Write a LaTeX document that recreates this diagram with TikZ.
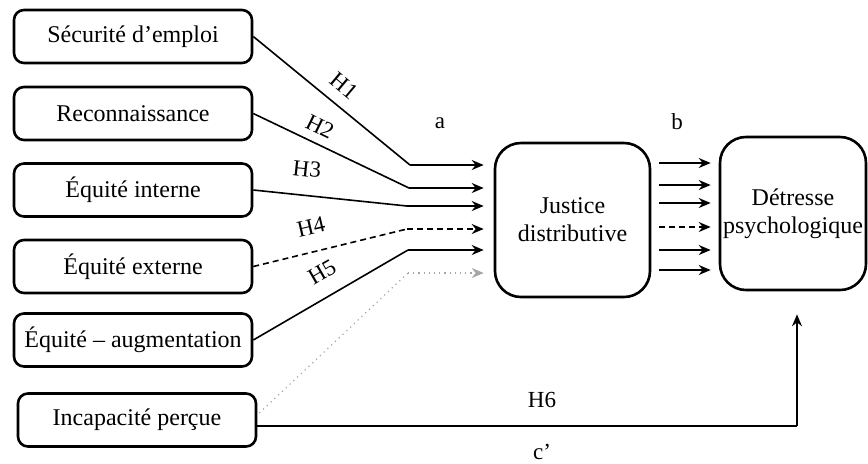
\documentclass[tikz,border=0pt]{standalone}
\usepackage{fontspec}
\setmainfont{Liberation Serif}
\usetikzlibrary{arrows.meta,calc}
\tikzset{
  smallbox/.style={draw,line width=1.3pt,rounded corners=5pt,minimum width=119pt,minimum height=26.5pt,inner sep=0pt,font=\fontsize{12}{14}\selectfont},
  bigbox/.style={draw,line width=1.3pt,rounded corners=13pt,inner sep=0pt,align=center,font=\fontsize{12}{14}\selectfont},
  conn/.style={line width=0.8pt},
  arr/.style={line width=0.8pt,-{Stealth[length=6pt,width=5pt,inset=2pt]}},
  lab/.style={font=\fontsize{11.5}{13}\selectfont,inner sep=0pt},
  dsh/.style={dash pattern=on 3pt off 2pt},
  gry/.style={draw=black!35,dotted,line width=0.6pt},
}
\begin{document}
\begin{tikzpicture}[x=0.5pt,y=-0.5pt]
\useasboundingbox (0,0) rectangle (868,463);
% boxes
\node[smallbox] (sec) at (133,36.5) {Sécurité d’emploi};
\node[smallbox] (rec) at (133,113.5) {Reconnaissance};
\node[smallbox] (ein) at (133,190) {Équité interne};
\node[smallbox] (eex) at (133,266.5) {Équité externe};
\node[smallbox] (eau) at (133,340) {Équité – augmentation};
\node[smallbox] (inc) at (137,420) {Incapacité perçue};
\node[bigbox,minimum width=77.5pt,minimum height=77pt] (jd) at (572.5,220) {Justice\\distributive};
\node[bigbox,minimum width=73pt,minimum height=76.5pt] (dt) at (793,213.5) {Détresse\\psychologique};
% bend points
\coordinate (k1) at (410,165);
\coordinate (k2) at (409,188);
\coordinate (k3) at (407,206);
\coordinate (k4) at (407,229);
\coordinate (k5) at (408,250);
\coordinate (k6) at (408,273);
% left connectors
\draw[conn] (sec.east) -- (k1);
\draw[arr] (k1) -- ($(k1 -| jd.west)+(-10,0)$);
\draw[conn] (rec.east) -- (k2);
\draw[arr] (k2) -- ($(k2 -| jd.west)+(-10,0)$);
\draw[conn] (ein.east) -- (k3);
\draw[arr] (k3) -- ($(k3 -| jd.west)+(-10,0)$);
\draw[conn,dsh] (eex.east) -- (k4);
\draw[arr,dsh] (k4) -- ($(k4 -| jd.west)+(-10,0)$);
\draw[conn] (eau.east) -- (k5);
\draw[arr] (k5) -- ($(k5 -| jd.west)+(-10,0)$);
\draw[gry] ($(inc.east)+(2,-7)$) -- (k6);
\draw[gry,-{Stealth[length=6pt,width=5pt,inset=2pt]},solid,draw=black!35,fill=black!35] ($(k6)+(70,0)$) -- ($(k6 -| jd.west)+(-10,0)$);
\draw[gry] (k6) -- ($(k6)+(70,0)$);
% right arrows
\foreach \y/\s in {163/solid,185/solid,203/solid,227/dsh,250/solid,270/solid}{
  \draw[arr,\s] ($(jd.east |- 0,\y)+(8,0)$) -- ($(dt.west |- 0,\y)+(-8,0)$);
}
% H6
\coordinate (c6) at (797,426);
\draw[conn] ($(inc.east)+(0,6)$) -- (c6);
\draw[arr] (c6) -- ($(dt.south -| c6)+(0,23)$);
% labels
\node[lab,rotate=-40] (h1) at (344,86) {H1};
\node[lab,rotate=-26] (h2) at (320,127) {H2};
\node[lab,rotate=-6] (h3) at (307,169) {H3};
\node[lab,rotate=13] (h4) at (311,227) {H4};
\node[lab,rotate=30] (h5) at (322,272) {H5};
\node[lab] (la) at (440,123) {a};
\node[lab] (lb) at (677,122) {b};
\node[lab] (h6) at (542,400) {H6};
\node[lab] (lc) at (542,452) {c’};
\end{tikzpicture}
\end{document}
